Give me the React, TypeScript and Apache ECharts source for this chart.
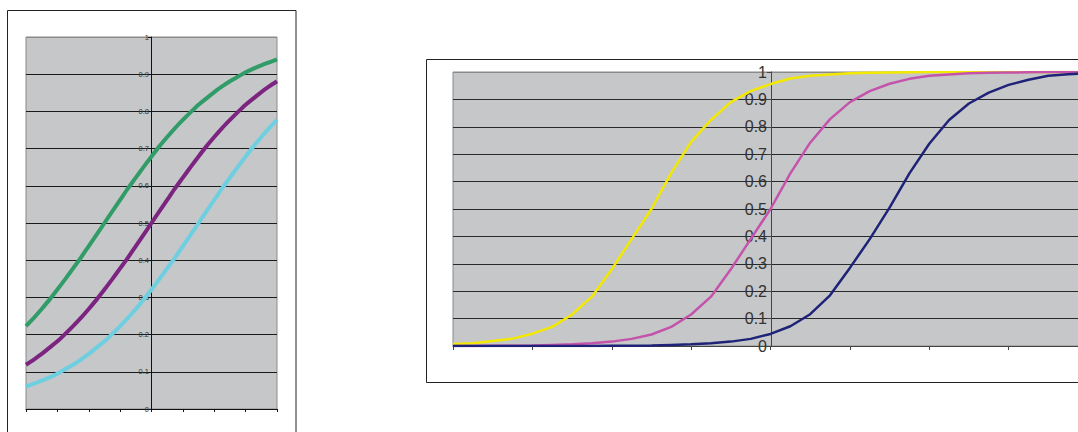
import React, { useEffect, useRef } from "react";
import * as echarts from "echarts";

// x positions (both charts share the same -4..4 axis, step 0.25)
const xValues = [
  -4, -3.75, -3.5, -3.25, -3, -2.75, -2.5, -2.25, -2, -1.75, -1.5, -1.25, -1, -0.75, -0.5, -0.25,
  0, 0.25, 0.5, 0.75, 1, 1.25, 1.5, 1.75, 2, 2.25, 2.5, 2.75, 3, 3.25, 3.5, 3.75, 4,
];

// Left chart series
const leftGreen = [
  0.223, 0.245, 0.269, 0.294, 0.321, 0.349, 0.378, 0.407, 0.438, 0.469, 0.5, 0.531, 0.562, 0.593, 0.622, 0.651,
  0.679, 0.706, 0.731, 0.755, 0.777, 0.798, 0.818, 0.835, 0.852, 0.867, 0.881, 0.893, 0.905, 0.915, 0.924, 0.932, 0.94,
];
const leftPurple = [
  0.119, 0.133, 0.148, 0.165, 0.182, 0.202, 0.223, 0.245, 0.269, 0.294, 0.321, 0.349, 0.378, 0.407, 0.438, 0.469,
  0.5, 0.531, 0.562, 0.593, 0.622, 0.651, 0.679, 0.706, 0.731, 0.755, 0.777, 0.798, 0.818, 0.835, 0.852, 0.867, 0.881,
];
const leftCyan = [
  0.06, 0.068, 0.076, 0.085, 0.095, 0.107, 0.119, 0.133, 0.148, 0.165, 0.182, 0.202, 0.223, 0.245, 0.269, 0.294,
  0.321, 0.349, 0.378, 0.407, 0.438, 0.469, 0.5, 0.531, 0.562, 0.593, 0.622, 0.651, 0.679, 0.706, 0.731, 0.755, 0.777,
];

// Right chart series
const rightYellow = [
  0.007, 0.01, 0.018, 0.027, 0.045, 0.07, 0.115, 0.18, 0.28, 0.39, 0.5, 0.632, 0.745, 0.825, 0.89, 0.93,
  0.956, 0.976, 0.986, 0.991, 0.995, 0.997, 0.998, 0.999, 1, 1, 1, 1, 1, 1, 1, 1, 1,
];
const rightMagenta = [
  0, 0, 0.001, 0.001, 0.002, 0.004, 0.006, 0.01, 0.016, 0.026, 0.042, 0.07, 0.115, 0.18, 0.28, 0.39,
  0.5, 0.63, 0.742, 0.828, 0.89, 0.93, 0.957, 0.975, 0.986, 0.991, 0.995, 0.997, 0.998, 0.999, 1, 1, 1,
];
const rightNavy = [
  0, 0, 0, 0, 0, 0, 0, 0, 0.001, 0.001, 0.002, 0.004, 0.006, 0.01, 0.016, 0.026,
  0.044, 0.072, 0.116, 0.185, 0.285, 0.39, 0.505, 0.63, 0.738, 0.825, 0.885, 0.925, 0.953, 0.972, 0.986, 0.992, 0.995,
];

const yTicks = 10; // 0..1 by 0.1

function pairs(ys: number[]) {
  return xValues.map((x, i) => [x, ys[i]]);
}

export default function App() {
  const ref = useRef<HTMLDivElement>(null);
  useEffect(() => {
    if (!ref.current) return;
    const chart = echarts.init(ref.current, undefined, { renderer: "svg" });
    const gridLineColorsLeft = Array.from({ length: yTicks + 1 }, (_, i) => (i === yTicks ? "#8a8a8a" : "#1a1a1a"));
    const gridLineColorsRight = Array.from({ length: yTicks + 1 }, (_, i) => (i === yTicks ? "#8a8a8a" : "#2a2a2a"));
    const font = "Liberation Sans, Arial, sans-serif";
    chart.setOption({
      animation: false,
      backgroundColor: "#ffffff",
      graphic: [
        {
          type: "rect",
          shape: { x: 7.5, y: 10.5, width: 288.5, height: 440 },
          style: { fill: "none", stroke: "#222", lineWidth: 1 },
          z: -1,
        },
        {
          type: "rect",
          shape: { x: 426.5, y: 59.5, width: 720, height: 323 },
          style: { fill: "none", stroke: "#222", lineWidth: 1 },
          z: -1,
        },
      ],
      grid: [
        {
          left: 26, top: 37, width: 251, height: 372,
          show: true, backgroundColor: "#c6c7c9", borderColor: "#8a8a8a", borderWidth: 1,
        },
        {
          left: 453, top: 72, width: 635, height: 274,
          show: true, backgroundColor: "#c6c7c9", borderColor: "#8a8a8a", borderWidth: 1,
        },
      ],
      xAxis: [
        {
          gridIndex: 0, type: "value", min: -4, max: 4, interval: 1,
          axisLine: { show: true, onZero: false, lineStyle: { color: "#111", width: 1 } },
          axisTick: { show: true, length: 3, inside: false, lineStyle: { color: "#111" } },
          axisLabel: { show: false },
          splitLine: { show: false },
        },
        {
          gridIndex: 1, type: "value", min: -4, max: 4, interval: 1,
          axisLine: { show: true, onZero: false, lineStyle: { color: "#444", width: 1 } },
          axisTick: { show: true, length: 4, inside: false, lineStyle: { color: "#444" } },
          axisLabel: { show: false },
          splitLine: { show: false },
        },
      ],
      yAxis: [
        {
          gridIndex: 0, type: "value", min: 0, max: 1, interval: 0.1, position: "left", offset: -125,
          axisLine: { show: true, onZero: false, lineStyle: { color: "#111", width: 1 } },
          axisTick: { show: true, length: 3, inside: false, lineStyle: { color: "#111" } },
          axisLabel: { show: true, fontSize: 7.5, color: "#333", margin: 2, fontFamily: font },
          splitLine: { show: true, lineStyle: { color: gridLineColorsLeft, width: 1 } },
        },
        {
          gridIndex: 1, type: "value", min: 0, max: 1, interval: 0.1, position: "left", offset: -318,
          axisLine: { show: true, onZero: false, lineStyle: { color: "#444", width: 1 } },
          axisTick: { show: true, length: 4, inside: false, lineStyle: { color: "#444" } },
          axisLabel: { show: true, fontSize: 16, color: "#333", margin: 4, fontFamily: font },
          splitLine: { show: true, lineStyle: { color: gridLineColorsRight, width: 1 } },
        },
      ],
      series: [
        { type: "line", xAxisIndex: 0, yAxisIndex: 0, data: pairs(leftGreen), showSymbol: false, symbol: "none", smooth: 0.3, lineStyle: { color: "#319c68", width: 4 } },
        { type: "line", xAxisIndex: 0, yAxisIndex: 0, data: pairs(leftPurple), showSymbol: false, symbol: "none", smooth: 0.3, lineStyle: { color: "#7b2580", width: 4 } },
        { type: "line", xAxisIndex: 0, yAxisIndex: 0, data: pairs(leftCyan), showSymbol: false, symbol: "none", smooth: 0.3, lineStyle: { color: "#6dcfe0", width: 4 } },
        { type: "line", xAxisIndex: 1, yAxisIndex: 1, data: pairs(rightYellow), showSymbol: false, symbol: "none", lineStyle: { color: "#f2e800", width: 2.5 } },
        { type: "line", xAxisIndex: 1, yAxisIndex: 1, data: pairs(rightMagenta), showSymbol: false, symbol: "none", lineStyle: { color: "#c453ac", width: 2.5 } },
        { type: "line", xAxisIndex: 1, yAxisIndex: 1, data: pairs(rightNavy), showSymbol: false, symbol: "none", lineStyle: { color: "#1f2378", width: 2.5 } },
      ],
    });
    return () => chart.dispose();
  }, []);
  return (
    <div style={{ position: "fixed", left: 0, top: 0, width: 1078, height: 432, overflow: "hidden", background: "#fff" }}>
      <div ref={ref} style={{ width: 1110, height: 432 }} />
    </div>
  );
}
